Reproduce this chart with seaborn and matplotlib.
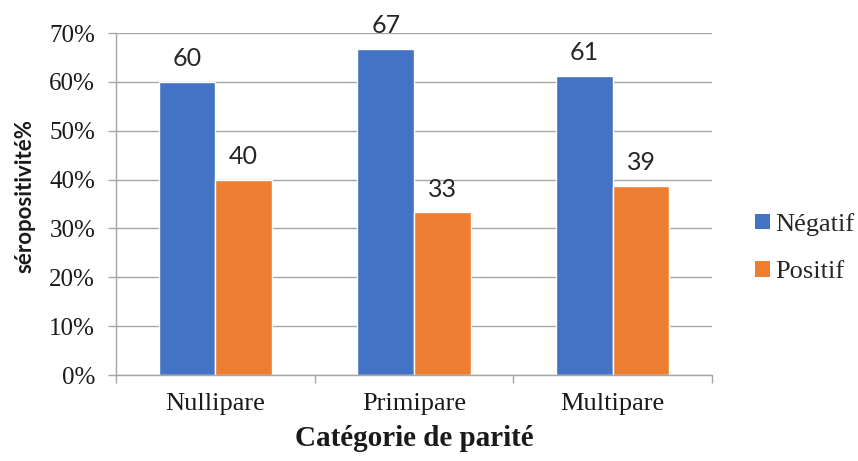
import matplotlib
matplotlib.use("Agg")
import matplotlib.pyplot as plt
from matplotlib.patches import Patch
from matplotlib.ticker import FuncFormatter, FixedLocator
import seaborn as sns
import pandas as pd

# Séropositivité par catégorie de parité (%)
categories = ["Nullipare", "Primipare", "Multipare"]
statuts = ["Négatif", "Positif"]
negatif = [60.0, 66.7, 61.3]
positif = [40.0, 33.3, 38.7]
colors = ["#4472C4", "#ED7D31"]

df = pd.DataFrame({
    "parite": categories * 2,
    "statut": [statuts[0]] * 3 + [statuts[1]] * 3,
    "valeur": negatif + positif,
})

sns.set_theme(style="white")
serif = ["Liberation Serif", "DejaVu Serif"]
sans = ["Lato", "DejaVu Sans"]
plt.rcParams["font.family"] = serif

fig = plt.figure(figsize=(8.58, 4.61), dpi=100)
ax = fig.add_axes([116 / 858, 1 - 375 / 461, (712 - 116) / 858, (375 - 33) / 461])

sns.barplot(data=df, x="parite", y="valeur", hue="statut", order=categories,
            hue_order=statuts, palette=colors, saturation=1, width=0.57,
            gap=0, legend=False, ax=ax, errorbar=None)

for cont in ax.containers:
    ax.bar_label(cont, fmt="{:.0f}", padding=8.5, fontsize=18,
                 family=sans, color="#262626")

grid_c = "#A6A6A6"
ax.set_ylim(0, 70)
ax.set_xlim(-0.5, 2.5)
ax.set_yticks(range(0, 71, 10))
ax.yaxis.set_major_formatter(FuncFormatter(lambda v, p: f"{v:.0f}%"))
ax.yaxis.grid(True, color=grid_c, linewidth=1.0)
ax.set_axisbelow(True)

for s in ["top", "right"]:
    ax.spines[s].set_visible(False)
for s in ["left", "bottom"]:
    ax.spines[s].set_color(grid_c)
    ax.spines[s].set_linewidth(1.0)

ax.tick_params(axis="y", which="major", left=True, length=6, width=1.0,
               color=grid_c, pad=9, labelsize=18, labelcolor="#1a1a1a")
ax.xaxis.set_minor_locator(FixedLocator([-0.5, 0.5, 1.5, 2.5]))
ax.tick_params(axis="x", which="minor", bottom=True, length=6, width=1.0,
               color=grid_c)
ax.tick_params(axis="x", which="major", bottom=False, length=0, pad=13,
               labelsize=19, labelcolor="#1a1a1a")

ax.set_xlabel("Catégorie de parité", fontsize=21, fontweight="bold",
              labelpad=7, color="#1a1a1a")
ax.set_ylabel("")
fig.text(0.029, 0.575, "séropositivité%", rotation=90, ha="center",
         va="center", fontsize=16, fontweight="bold", family=sans,
         color="#1a1a1a")

handles = [Patch(facecolor=c, edgecolor="none", label=l)
           for c, l in zip(colors, statuts)]
fig.legend(handles=handles, loc="center left", bbox_to_anchor=(0.868, 0.462),
           frameon=False, fontsize=19, handlelength=0.55, handleheight=0.55,
           handletextpad=0.2, labelspacing=0.95, borderaxespad=0)

fig.savefig("out.png", dpi=100, facecolor="white")
